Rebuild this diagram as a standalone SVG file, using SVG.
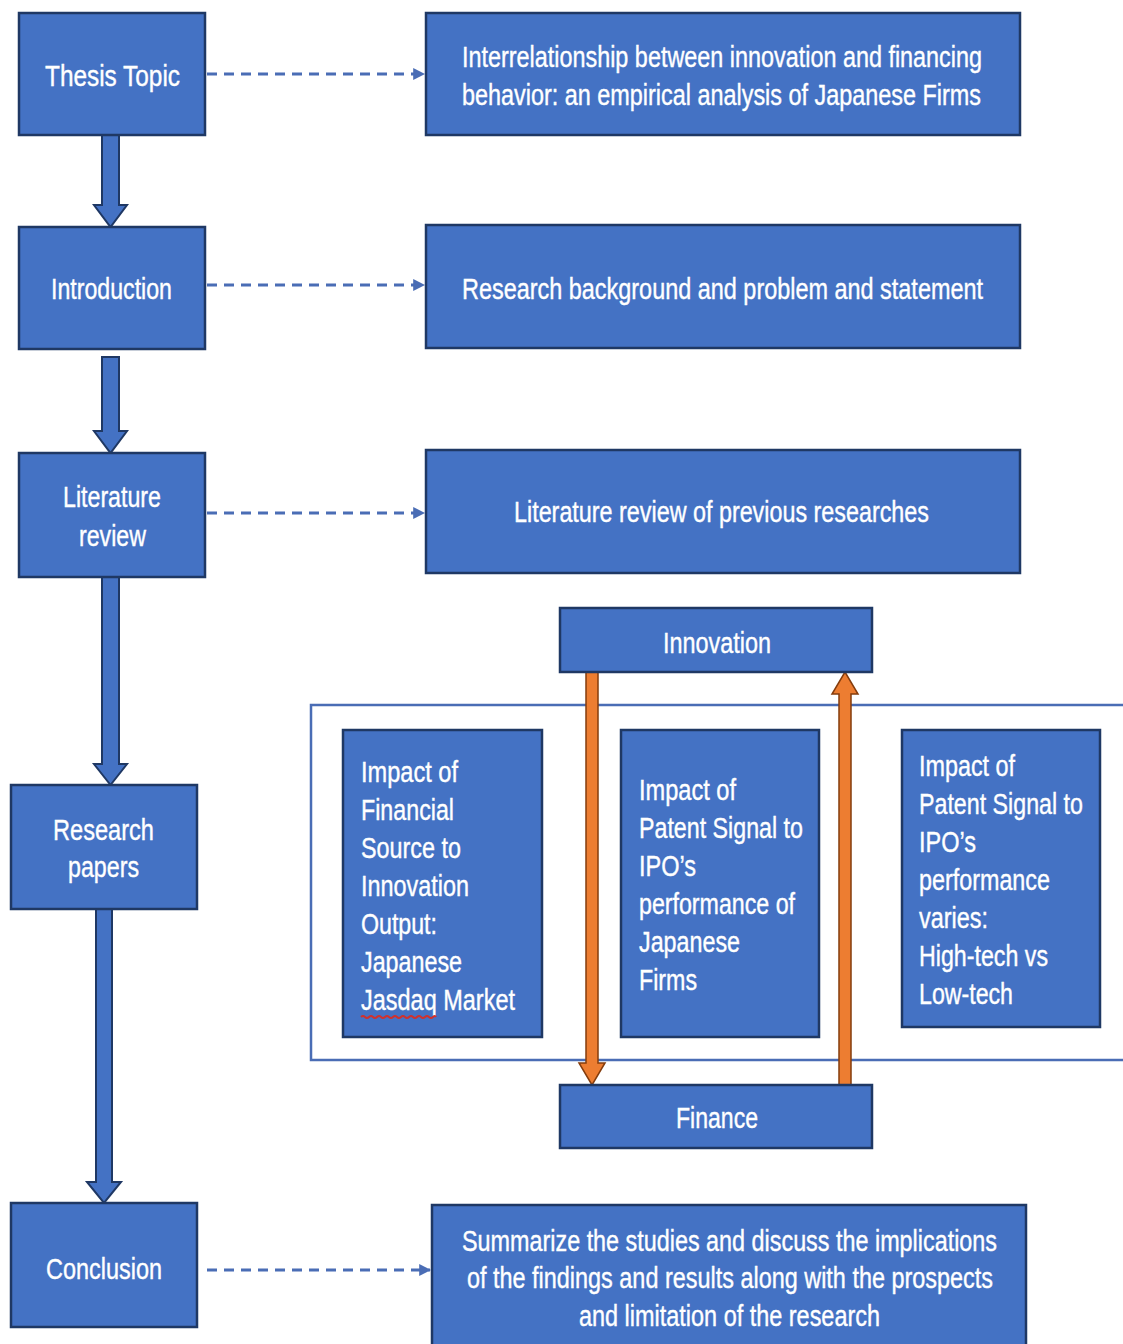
<svg xmlns="http://www.w3.org/2000/svg" width="1123" height="1344" viewBox="0 0 1123 1344">
  <style>
    .box { fill: #4472C4; stroke: #1F3864; stroke-width: 2.5; }
    .lbl { fill: #FFFFFF; stroke: #FFFFFF; stroke-width: 0.4; font-family: "Liberation Sans Narrow", "Liberation Sans", Arial, sans-serif; font-size: 30px; }
    .flow { fill: #4472C4; stroke: #1F3864; stroke-width: 2; }
    .dash { fill: none; stroke: #4A6DB5; stroke-width: 3; stroke-dasharray: 10 7; }
    .cycle { fill: #ED7D31; stroke: #843C0C; stroke-width: 1.5; }
    .frame { fill: none; stroke: #4A6DB5; stroke-width: 2.5; }
  </style>
  <defs>
    <marker id="dashHead" viewBox="0 0 10 10" refX="9" refY="5" markerWidth="4" markerHeight="4" orient="auto" markerUnits="strokeWidth">
      <path d="M0,0 L10,5 L0,10 Z" fill="#4A6DB5"/>
    </marker>
  </defs>

  <rect width="1123" height="1344" fill="#FFFFFF"/>

  <!-- frame around the three studies -->
  <rect class="frame" x="311" y="705" width="830" height="355"/>

  <!-- connectors -->
  <g id="connectors">
    <!-- block arrows down the left column -->
    <path class="flow" d="M102,135 L119,135 L119,205 L127,205 L110.5,227 L94,205 L102,205 Z"/>
    <path class="flow" d="M102,357 L119,357 L119,431 L127,431 L110.5,453 L94,431 L102,431 Z"/>
    <path class="flow" d="M102,577 L119,577 L119,764 L127,764 L110.5,785 L94,764 L102,764 Z"/>
    <path class="flow" d="M96,909 L112,909 L112,1182 L121,1182 L104,1203 L87,1182 L96,1182 Z"/>
    <!-- dashed links to descriptions -->
    <line class="dash" x1="207" y1="74" x2="424" y2="74" marker-end="url(#dashHead)"/>
    <line class="dash" x1="207" y1="285" x2="424" y2="285" marker-end="url(#dashHead)"/>
    <line class="dash" x1="207" y1="513" x2="424" y2="513" marker-end="url(#dashHead)"/>
    <line class="dash" x1="207" y1="1270" x2="430" y2="1270" marker-end="url(#dashHead)"/>
    <!-- innovation / finance cycle -->
    <path class="cycle" d="M586,672 L598,672 L598,1063 L605,1063 L592,1085 L579,1063 L586,1063 Z"/>
    <path class="cycle" d="M839,1085 L851,1085 L851,694 L858,694 L845,672 L832,694 L839,694 Z"/>
  </g>

  <g id="thesis-topic">
    <rect class="box" x="19" y="13" width="186" height="122"/>
    <text class="lbl" x="45" y="86" textLength="135" lengthAdjust="spacingAndGlyphs">Thesis Topic</text>
  </g>
  <g id="introduction">
    <rect class="box" x="19" y="227" width="186" height="122"/>
    <text class="lbl" x="51" y="299" textLength="121" lengthAdjust="spacingAndGlyphs">Introduction</text>
  </g>
  <g id="literature-review">
    <rect class="box" x="19" y="453" width="186" height="124"/>
    <text class="lbl" x="63" y="507" textLength="98" lengthAdjust="spacingAndGlyphs">Literature</text>
    <text class="lbl" x="79" y="546" textLength="67" lengthAdjust="spacingAndGlyphs">review</text>
  </g>
  <g id="research-papers">
    <rect class="box" x="11" y="785" width="186" height="124"/>
    <text class="lbl" x="53" y="840" textLength="101" lengthAdjust="spacingAndGlyphs">Research</text>
    <text class="lbl" x="68" y="877" textLength="71" lengthAdjust="spacingAndGlyphs">papers</text>
  </g>
  <g id="conclusion">
    <rect class="box" x="11" y="1203" width="186" height="124"/>
    <text class="lbl" x="46" y="1279" textLength="116" lengthAdjust="spacingAndGlyphs">Conclusion</text>
  </g>

  <g id="topic-description">
    <rect class="box" x="426" y="13" width="594" height="122"/>
    <text class="lbl" x="462" y="67" textLength="520" lengthAdjust="spacingAndGlyphs">Interrelationship between innovation and financing</text>
    <text class="lbl" x="462" y="105" textLength="519" lengthAdjust="spacingAndGlyphs">behavior: an empirical analysis of Japanese Firms</text>
  </g>
  <g id="introduction-description">
    <rect class="box" x="426" y="225" width="594" height="123"/>
    <text class="lbl" x="462" y="299" textLength="521" lengthAdjust="spacingAndGlyphs">Research background and problem and statement</text>
  </g>
  <g id="literature-description">
    <rect class="box" x="426" y="450" width="594" height="123"/>
    <text class="lbl" x="514" y="522" textLength="415" lengthAdjust="spacingAndGlyphs">Literature review of previous researches</text>
  </g>
  <g id="conclusion-description">
    <rect class="box" x="432" y="1205" width="594" height="150"/>
    <text class="lbl" x="462" y="1251" textLength="535" lengthAdjust="spacingAndGlyphs">Summarize the studies and discuss the implications</text>
    <text class="lbl" x="467" y="1288" textLength="526" lengthAdjust="spacingAndGlyphs">of the findings and results along with the prospects</text>
    <text class="lbl" x="579" y="1326" textLength="301" lengthAdjust="spacingAndGlyphs">and limitation of the research</text>
  </g>

  <g id="innovation">
    <rect class="box" x="560" y="608" width="312" height="64"/>
    <text class="lbl" x="663" y="653" textLength="108" lengthAdjust="spacingAndGlyphs">Innovation</text>
  </g>
  <g id="finance">
    <rect class="box" x="560" y="1085" width="312" height="63"/>
    <text class="lbl" x="676" y="1128" textLength="82" lengthAdjust="spacingAndGlyphs">Finance</text>
  </g>

  <g id="study-financial-source">
    <rect class="box" x="343" y="730" width="199" height="307"/>
    <text class="lbl" x="361" y="782" textLength="97" lengthAdjust="spacingAndGlyphs">Impact of</text>
    <text class="lbl" x="361" y="820" textLength="93" lengthAdjust="spacingAndGlyphs">Financial</text>
    <text class="lbl" x="361" y="858" textLength="100" lengthAdjust="spacingAndGlyphs">Source to</text>
    <text class="lbl" x="361" y="896" textLength="108" lengthAdjust="spacingAndGlyphs">Innovation</text>
    <text class="lbl" x="361" y="934" textLength="76" lengthAdjust="spacingAndGlyphs">Output:</text>
    <text class="lbl" x="361" y="972" textLength="101" lengthAdjust="spacingAndGlyphs">Japanese</text>
    <text class="lbl" x="361" y="1010" textLength="154" lengthAdjust="spacingAndGlyphs">Jasdaq Market</text>
    <!-- spell-check squiggle under "Jasdaq" -->
    <path d="M361,1017 q2,-2 4,0 t4,0 t4,0 t4,0 t4,0 t4,0 t4,0 t4,0 t4,0 t4,0 t4,0 t4,0 t4,0 t4,0 t4,0 t4,0 t4,0 t4,0 t3,0" fill="none" stroke="#D0312D" stroke-width="2"/>
  </g>
  <g id="study-patent-signal">
    <rect class="box" x="621" y="730" width="198" height="307"/>
    <text class="lbl" x="639" y="800" textLength="97" lengthAdjust="spacingAndGlyphs">Impact of</text>
    <text class="lbl" x="639" y="838" textLength="164" lengthAdjust="spacingAndGlyphs">Patent Signal to</text>
    <text class="lbl" x="639" y="876" textLength="57" lengthAdjust="spacingAndGlyphs">IPO’s</text>
    <text class="lbl" x="639" y="914" textLength="156" lengthAdjust="spacingAndGlyphs">performance of</text>
    <text class="lbl" x="639" y="952" textLength="101" lengthAdjust="spacingAndGlyphs">Japanese</text>
    <text class="lbl" x="639" y="990" textLength="58" lengthAdjust="spacingAndGlyphs">Firms</text>
  </g>
  <g id="study-tech-split">
    <rect class="box" x="902" y="730" width="198" height="297"/>
    <text class="lbl" x="919" y="776" textLength="96" lengthAdjust="spacingAndGlyphs">Impact of</text>
    <text class="lbl" x="919" y="814" textLength="164" lengthAdjust="spacingAndGlyphs">Patent Signal to</text>
    <text class="lbl" x="919" y="852" textLength="57" lengthAdjust="spacingAndGlyphs">IPO’s</text>
    <text class="lbl" x="919" y="890" textLength="131" lengthAdjust="spacingAndGlyphs">performance</text>
    <text class="lbl" x="919" y="928" textLength="69" lengthAdjust="spacingAndGlyphs">varies:</text>
    <text class="lbl" x="919" y="966" textLength="129" lengthAdjust="spacingAndGlyphs">High-tech vs</text>
    <text class="lbl" x="919" y="1004" textLength="94" lengthAdjust="spacingAndGlyphs">Low-tech</text>
  </g>
</svg>
